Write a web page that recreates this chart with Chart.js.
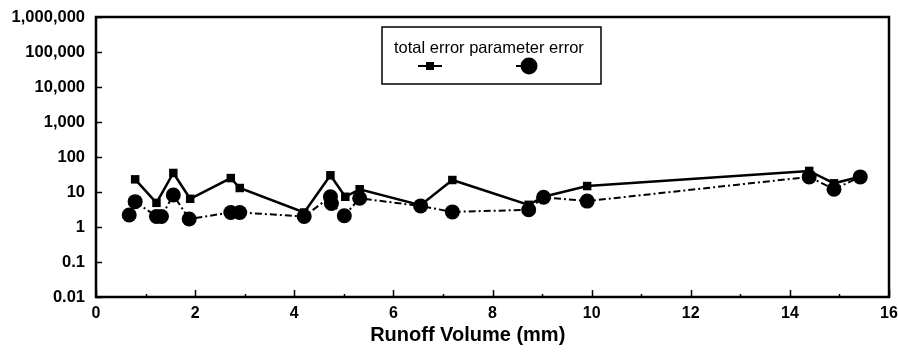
<!DOCTYPE html>
<html>
<head>
<meta charset="utf-8">
<script src="https://cdn.jsdelivr.net/npm/chart.js@4"></script>
<style>
  html, body { margin: 0; padding: 0; background: #fff; }
  #wrap { width: 898px; height: 352px; }
</style>
</head>
<body>
<div id="wrap"><canvas id="chart"></canvas></div>
<script>
// runoff volume (mm) and error values
const totalX   = [0.79, 1.22, 1.56, 1.90, 2.72, 2.90, 4.20, 4.73, 5.03, 5.32, 6.55, 7.19, 8.73, 9.03, 9.91, 14.39, 14.89, 15.42];
const totalErr = [23, 4.9, 35, 6.4, 25, 13, 2.6, 30, 7.3, 12, 4.2, 22, 4.3, 7.3, 14.8, 40, 17.7, 27.5];

const paramX   = [0.67, 0.79, 1.22, 1.32, 1.56, 1.88, 2.72, 2.90, 4.20, 4.73, 4.75, 5.01, 5.32, 6.55, 7.19, 8.73, 9.03, 9.91, 14.39, 14.89, 15.42];
const paramErr = [2.2, 5.3, 2.0, 2.0, 8.2, 1.7, 2.6, 2.6, 2.0, 7.3, 4.7, 2.1, 6.6, 4.0, 2.7, 3.1, 7.1, 5.5, 27, 12, 27];

const yTickValues = [0.01, 0.1, 1, 10, 100, 1000, 10000, 100000, 1000000];
const yTickLabels = ["0.01", "0.1", "1", "10", "100", "1,000", "10,000", "100,000", "1,000,000"];
const xTickLabels = ["0", "2", "4", "6", "8", "10", "12", "14", "16"];
const xTitle = "Runoff Volume (mm)";
const legendNames = ["total error", "parameter error"];

const FONT = "'Liberation Sans', Arial, sans-serif";

function toPoints(xs, ys) {
    return xs.map((x, i) => ({ x: x, y: ys[i] }));
}

// box around the plot, inward tick marks, x title and the boxed legend
const framePlugin = {
    id: "frame",
    afterDraw(chart) {
        const ctx = chart.ctx;
        const a = chart.chartArea;
        const xs = chart.scales.x;
        const ys = chart.scales.y;
        ctx.save();
        ctx.strokeStyle = "#000";

        // ticks
        ctx.lineWidth = 1.5;
        ctx.beginPath();
        yTickValues.forEach(v => {
            const py = Math.round(ys.getPixelForValue(v)) + 0.5;
            ctx.moveTo(a.left, py);
            ctx.lineTo(a.left + 6, py);
        });
        for (let v = 0; v <= 16; v++) {
            const px = Math.round(xs.getPixelForValue(v)) + 0.5;
            ctx.moveTo(px, a.bottom);
            ctx.lineTo(px, a.bottom - (v % 2 === 0 ? 7 : 3));
        }
        ctx.stroke();

        // frame
        ctx.lineWidth = 2.5;
        ctx.strokeRect(a.left, a.top, a.right - a.left, a.bottom - a.top);

        // x axis title
        ctx.fillStyle = "#000";
        ctx.font = "bold 20px " + FONT;
        ctx.textAlign = "center";
        ctx.textBaseline = "middle";
        ctx.fillText(xTitle, xs.getPixelForValue(7.5), a.bottom + 38);

        // legend
        const lx = 382, ly = 27, lw = 219, lh = 57;
        ctx.fillStyle = "#fff";
        ctx.fillRect(lx, ly, lw, lh);
        ctx.lineWidth = 1.5;
        ctx.strokeRect(lx, ly, lw, lh);
        ctx.fillStyle = "#000";
        ctx.font = "16.5px " + FONT;
        ctx.textAlign = "left";
        ctx.fillText(legendNames[0], 394, 48);
        ctx.fillText(legendNames[1], 394 + ctx.measureText(legendNames[0] + " ").width, 48);

        ctx.lineWidth = 2;
        ctx.beginPath();
        ctx.moveTo(418, 66);
        ctx.lineTo(442, 66);
        ctx.moveTo(516, 66);
        ctx.lineTo(528, 66);
        ctx.stroke();
        ctx.fillRect(426, 62, 8, 8);
        ctx.beginPath();
        ctx.arc(529, 66, 8.5, 0, Math.PI * 2);
        ctx.fill();
        ctx.restore();
    }
};

new Chart(document.getElementById("chart"), {
    type: "scatter",
    data: {
        datasets: [{
            label: legendNames[1],
            data: toPoints(paramX, paramErr),
            showLine: true,
            borderColor: "#000",
            backgroundColor: "#000",
            borderWidth: 2,
            borderDash: [7, 3, 2, 3],
            pointStyle: "circle",
            pointRadius: 7.5,
            pointBorderWidth: 0
        }, {
            label: legendNames[0],
            data: toPoints(totalX, totalErr),
            showLine: true,
            borderColor: "#000",
            backgroundColor: "#000",
            borderWidth: 2.5,
            pointStyle: "rect",
            pointRadius: 6,
            pointBorderWidth: 0
        }]
    },
    options: {
        responsive: true,
        maintainAspectRatio: false,
        animation: false,
        layout: {
            padding: { left: 0, right: 9, top: 17, bottom: 0 }
        },
        plugins: {
            legend: { display: false },
            tooltip: { enabled: false }
        },
        scales: {
            x: {
                type: "linear",
                min: 0,
                max: 16,
                grid: { display: false },
                border: { display: false },
                ticks: {
                    stepSize: 2,
                    padding: -1,
                    color: "#000",
                    font: { family: FONT, size: 16, weight: "bold" },
                    callback: (v) => xTickLabels[v / 2]
                },
                afterFit: (scale) => { scale.height = 55; }
            },
            y: {
                type: "logarithmic",
                min: 0.01,
                max: 1000000,
                grid: { display: false },
                border: { display: false },
                afterBuildTicks: (scale) => {
                    scale.ticks = yTickValues.map(v => ({ value: v }));
                },
                ticks: {
                    padding: 3,
                    color: "#000",
                    font: { family: FONT, size: 16.5, weight: "bold" },
                    callback: (v, i) => yTickLabels[i]
                },
                afterFit: (scale) => { scale.width = 96; }
            }
        }
    },
    plugins: [framePlugin]
});
</script>
</body>
</html>
